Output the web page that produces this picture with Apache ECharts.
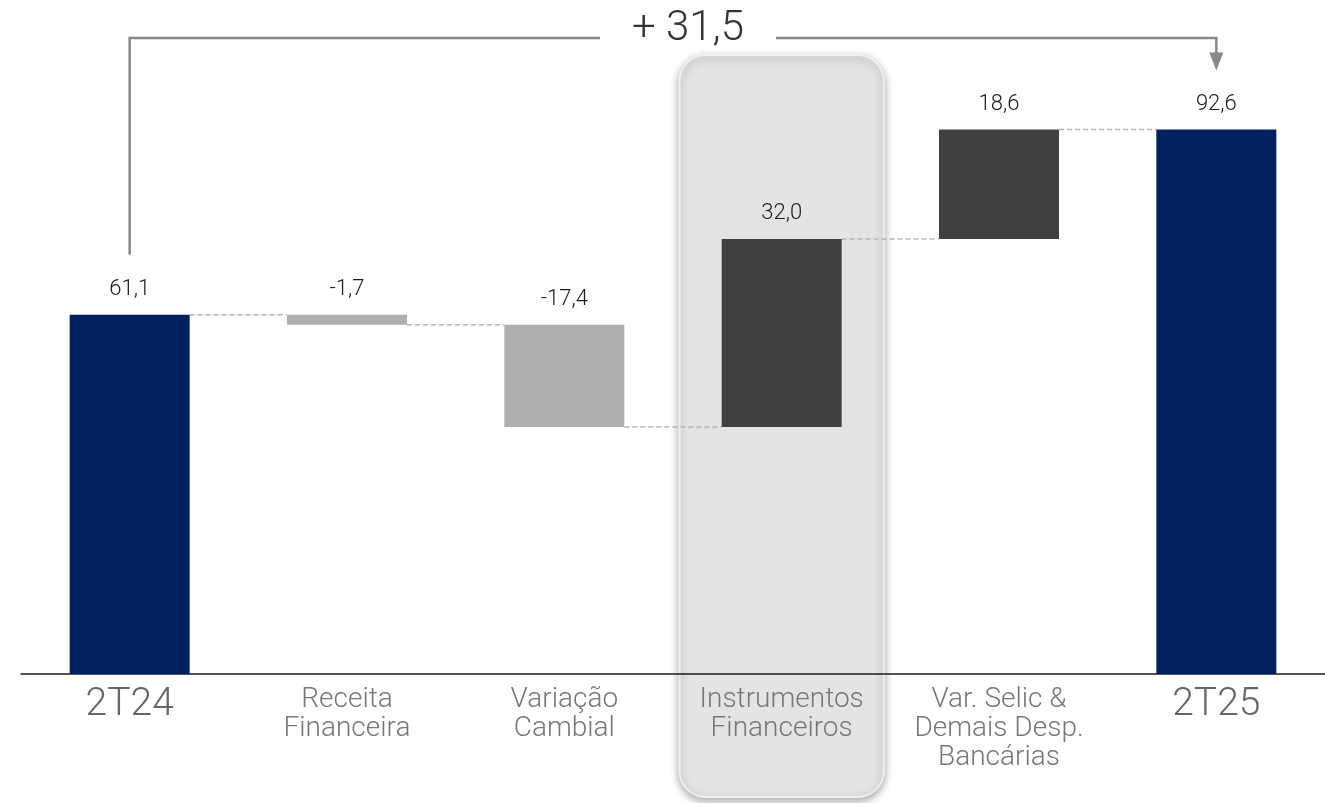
<!DOCTYPE html>
<html><head><meta charset="utf-8">
<script src="https://cdn.jsdelivr.net/npm/echarts@6/dist/echarts.min.js"></script>
<style>html,body{margin:0;padding:0;background:#fff}#c{width:1325px;height:803px}</style>
</head><body><div id="c"></div>
<script>
// ---- data ----
var categories = ['2T24', 'Receita\nFinanceira', 'Variação\nCambial', 'Instrumentos\nFinanceiros', 'Var. Selic &\nDemais Desp.\nBancárias', '2T25'];
var values = [61.1, -1.7, -17.4, 32.0, 18.6, 92.6];   // first/last are totals, others are deltas
var isTotal = [true, false, false, false, false, true];
var highlightIndex = 3;
var bridgeLabel = '+ 31,5';

// ---- derived waterfall ----
var baseData = [], barData = [], levels = [];
var run = 0;
for (var i = 0; i < values.length; i++) {
  var v = values[i];
  if (isTotal[i]) { baseData.push(0); barData.push(v); run = v; }
  else {
    var nr = run + v;
    baseData.push(Math.min(run, nr));
    barData.push(Math.abs(v));
    run = nr;
  }
  levels.push(run);
}
function fmt(v){ return v.toFixed(1).replace('.', ','); }
var colors = values.map(function(v, i){ return isTotal[i] ? '#00205f' : (v < 0 ? '#afafaf' : '#404040'); });

var chart = echarts.init(document.getElementById('c'));
var FONT = 'Roboto';
var option = {
  animation: false,
  grid: { left: 21, right: 0, top: 86, bottom: 129 },
  xAxis: {
    type: 'category', data: categories,
    axisLine: { lineStyle: { color: '#1a1a1a', width: 1.5 } },
    axisTick: { show: false },
    axisLabel: {
      interval: 0, margin: 11,
      formatter: function(val, idx){ return isTotal[idx] ? '{big|' + val + '}' : '{small|' + val + '}'; },
      rich: {
        big: { fontFamily: FONT, fontWeight: 300, fontSize: 39, color: '#666', lineHeight: 40 },
        small: { fontFamily: FONT, fontWeight: 300, fontSize: 28, color: '#777', lineHeight: 29 }
      }
    }
  },
  yAxis: { type: 'value', min: 0, max: 100, show: false, splitLine: { show: false } },
  series: [
    { type: 'bar', stack: 'w', data: baseData, barWidth: 120, itemStyle: { color: 'transparent' }, silent: true },
    { type: 'bar', stack: 'w', barWidth: 120,
      data: barData.map(function(v, i){ return { value: v, itemStyle: { color: colors[i] } }; }),
      label: { show: true, position: 'top', distance: 14, fontFamily: FONT, fontWeight: 300, fontSize: 22, color: '#1a1a1a',
        formatter: function(p){ return fmt(values[p.dataIndex]); } }
    },
    { type: 'custom', z: 1,
      data: levels.slice(0, levels.length - 1).map(function(l, i){ return [i, l]; }),
      renderItem: function(params, api){
        var i = api.value(0), l = api.value(1);
        var p1 = api.coord([i, l]), p2 = api.coord([i + 1, l]);
        return { type: 'line', shape: { x1: p1[0] + 60, y1: p1[1], x2: p2[0] - 60, y2: p2[1] },
          style: { stroke: '#b5b5b5', lineWidth: 1.5, lineDash: [5, 3] } };
      }
    }
  ]
};
chart.setOption(option);

// ---- annotations positioned from axes ----
var xs = categories.map(function(c, i){ return chart.convertToPixel({ xAxisIndex: 0 }, i); });
var cw = xs[1] - xs[0];
var yStart = chart.convertToPixel({ yAxisIndex: 0 }, values[0]);
var yEnd = chart.convertToPixel({ yAxisIndex: 0 }, values[values.length - 1]);
var topY = 38;
var textX = 688;
var hx = xs[highlightIndex];
chart.setOption({
  graphic: [
    { type: 'rect', z: -10, silent: true,
      shape: { x: hx - cw * 0.47, y: 55, width: cw * 0.94, height: 742, r: 26 },
      style: { fill: '#e4e4e4', stroke: '#efefef', lineWidth: 2, shadowBlur: 8, shadowOffsetY: 3, shadowColor: 'rgba(0,0,0,0.35)' } },
    { type: 'polyline', z: 10, silent: true,
      shape: { points: [[xs[0], yStart - 60], [xs[0], topY], [textX - 88, topY]] },
      style: { stroke: '#888', lineWidth: 2.5, fill: null } },
    { type: 'polyline', z: 10, silent: true,
      shape: { points: [[textX + 88, topY], [xs[5], topY], [xs[5], yEnd - 76]] },
      style: { stroke: '#888', lineWidth: 2.5, fill: null } },
    { type: 'polygon', z: 10, silent: true,
      shape: { points: [[xs[5] - 7, yEnd - 77], [xs[5] + 7, yEnd - 77], [xs[5], yEnd - 59]] },
      style: { fill: '#888' } },
    { type: 'text', z: 10, silent: true,
      style: { x: textX, y: 29, text: bridgeLabel, fontFamily: FONT, fontWeight: 300, fontSize: 42, fill: '#333', textAlign: 'center', textVerticalAlign: 'middle' } }
  ]
});
</script></body></html>
